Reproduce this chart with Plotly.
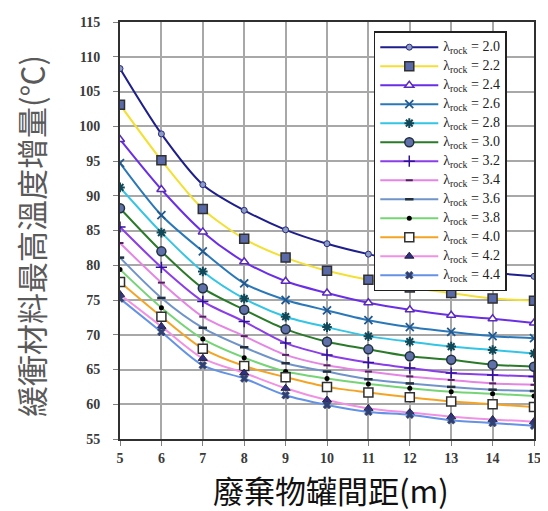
import plotly.graph_objects as go

spacing = [5, 6, 7, 8, 9, 10, 11, 12, 13, 14, 15]
lambdas = ["2.0", "2.2", "2.4", "2.6", "2.8", "3.0", "3.2", "3.4", "3.6", "3.8", "4.0", "4.2", "4.4"]

t_20 = [108.3, 98.9, 91.6, 87.9, 85.1, 83.1, 81.6, 80.4, 79.4, 78.9, 78.4]
t_22 = [103.1, 95.1, 88.1, 83.8, 81.1, 79.2, 77.9, 76.8, 76.0, 75.2, 74.9]
t_24 = [98.1, 90.9, 84.8, 80.5, 77.7, 76.0, 74.6, 73.6, 72.8, 72.3, 71.7]
t_26 = [94.7, 87.2, 82.0, 77.4, 75.0, 73.5, 72.1, 71.1, 70.4, 69.8, 69.5]
t_28 = [91.2, 84.7, 79.1, 75.2, 72.6, 71.1, 69.8, 69.0, 68.3, 67.8, 67.3]
t_30 = [88.2, 82.0, 76.7, 73.6, 70.8, 69.0, 67.9, 66.9, 66.4, 65.7, 65.4]
t_32 = [85.5, 79.7, 74.8, 71.9, 68.8, 67.1, 66.0, 65.2, 64.5, 64.2, 64.0]
t_34 = [83.2, 77.5, 72.6, 69.8, 67.1, 65.6, 64.7, 64.0, 63.5, 63.0, 62.8]
t_36 = [81.1, 75.3, 71.0, 68.2, 65.9, 64.7, 63.6, 63.0, 62.5, 62.1, 61.9]
t_38 = [79.4, 73.9, 69.4, 66.7, 64.7, 63.7, 62.9, 62.3, 61.8, 61.5, 61.2]
t_40 = [77.6, 72.6, 68.0, 65.5, 63.9, 62.5, 61.7, 61.0, 60.4, 60.0, 59.6]
t_42 = [75.8, 71.2, 66.6, 64.5, 62.3, 60.6, 59.4, 58.8, 58.2, 57.8, 57.5]
t_44 = [75.2, 70.4, 65.6, 63.7, 61.3, 59.9, 58.9, 58.5, 57.7, 57.3, 56.9]

series = [t_20, t_22, t_24, t_26, t_28, t_30, t_32, t_34, t_36, t_38, t_40, t_42, t_44]

line_colors = ["#1e1e8c", "#f2e034", "#6a2ee6", "#2a78b8", "#34c4e4", "#2a7a2a", "#8a3ee8",
               "#e486e4", "#7094c8", "#76d476", "#f4a424", "#f092e4", "#6492e4"]
marker_styles = [
    dict(symbol="circle", size=6, color="#8a9cc4", line=dict(color="#2a2a80", width=1)),
    dict(symbol="square", size=9, color="#5a6aa8", line=dict(color="#303030", width=1.5)),
    dict(symbol="triangle-up", size=8, color="#ffffff", line=dict(color="#5a2ab8", width=1.5)),
    dict(symbol="x-thin", size=8, color="#205890", line=dict(color="#205890", width=1.8)),
    dict(symbol="asterisk", size=8, color="#104858", line=dict(color="#104858", width=2)),
    dict(symbol="circle", size=9, color="#6070a8", line=dict(color="#203040", width=1.5)),
    dict(symbol="cross-thin", size=8, color="#30109a", line=dict(color="#30109a", width=1.5)),
    dict(symbol="line-ew", size=5, color="#502060", line=dict(color="#502060", width=2)),
    dict(symbol="line-ew", size=6, color="#203040", line=dict(color="#203040", width=2.5)),
    dict(symbol="circle", size=5, color="#000000", line=dict(color="#000000", width=0)),
    dict(symbol="square", size=9, color="#ffffff", line=dict(color="#303030", width=1.5)),
    dict(symbol="triangle-up", size=8, color="#303080", line=dict(color="#202040", width=1)),
    dict(symbol="x", size=7, color="#304070", line=dict(color="#304070", width=0.5)),
]

fig = go.Figure()
for lam, vals, lc, ms in zip(lambdas, series, line_colors, marker_styles):
    fig.add_trace(go.Scatter(
        x=spacing, y=vals, mode="lines+markers",
        name="<span style='font-size:14px'>λ<sub>rock</sub> = " + lam + "</span>",
        line=dict(color=lc, width=2, shape="spline", smoothing=0.8),
        marker=ms,
    ))

tick_font = dict(family="Liberation Serif", size=14, color="#3a3a3a", weight="bold")
fig.update_layout(
    width=540, height=503,
    margin=dict(l=112, r=7, t=14, b=72),
    paper_bgcolor="white", plot_bgcolor="white",
    showlegend=True,
    legend=dict(
        x=0.613, y=0.978, xanchor="left", yanchor="top",
        bgcolor="white", bordercolor="#202020", borderwidth=1.5,
        font=dict(family="Liberation Serif", size=11, color="#222222"),
        tracegroupgap=0, itemwidth=58,
    ),
    xaxis=dict(
        range=[5, 15], dtick=1, tick0=5,
        showgrid=True, gridcolor="#a8a8a8", gridwidth=1.5,
        showline=True, linecolor="#303030", linewidth=2, mirror=True,
        ticks="outside", ticklen=5, tickcolor="#808080",
        tickfont=tick_font, zeroline=False,
    ),
    yaxis=dict(
        range=[55, 115], dtick=5, tick0=55,
        showgrid=True, gridcolor="#a8a8a8", gridwidth=1.5,
        showline=True, linecolor="#303030", linewidth=2, mirror=True,
        ticks="outside", ticklen=5, tickcolor="#808080",
        tickfont=tick_font, zeroline=False, ticklabelstandoff=10,
    ),
    annotations=[
        dict(text="緩衝材料最高溫度增量(℃)", xref="paper", yref="paper",
             x=-0.215, y=0.487, xanchor="center", yanchor="middle", textangle=-90,
             showarrow=False, font=dict(family="Noto Sans CJK TC", size=31, color="#5a5a5a")),
        dict(text="廢棄物罐間距(m)", xref="paper", yref="paper",
             x=0.51, y=-0.122, xanchor="center", yanchor="middle",
             showarrow=False, font=dict(family="Noto Sans CJK TC", size=31, color="#111111")),
    ],
)

fig.write_html("out.html")
